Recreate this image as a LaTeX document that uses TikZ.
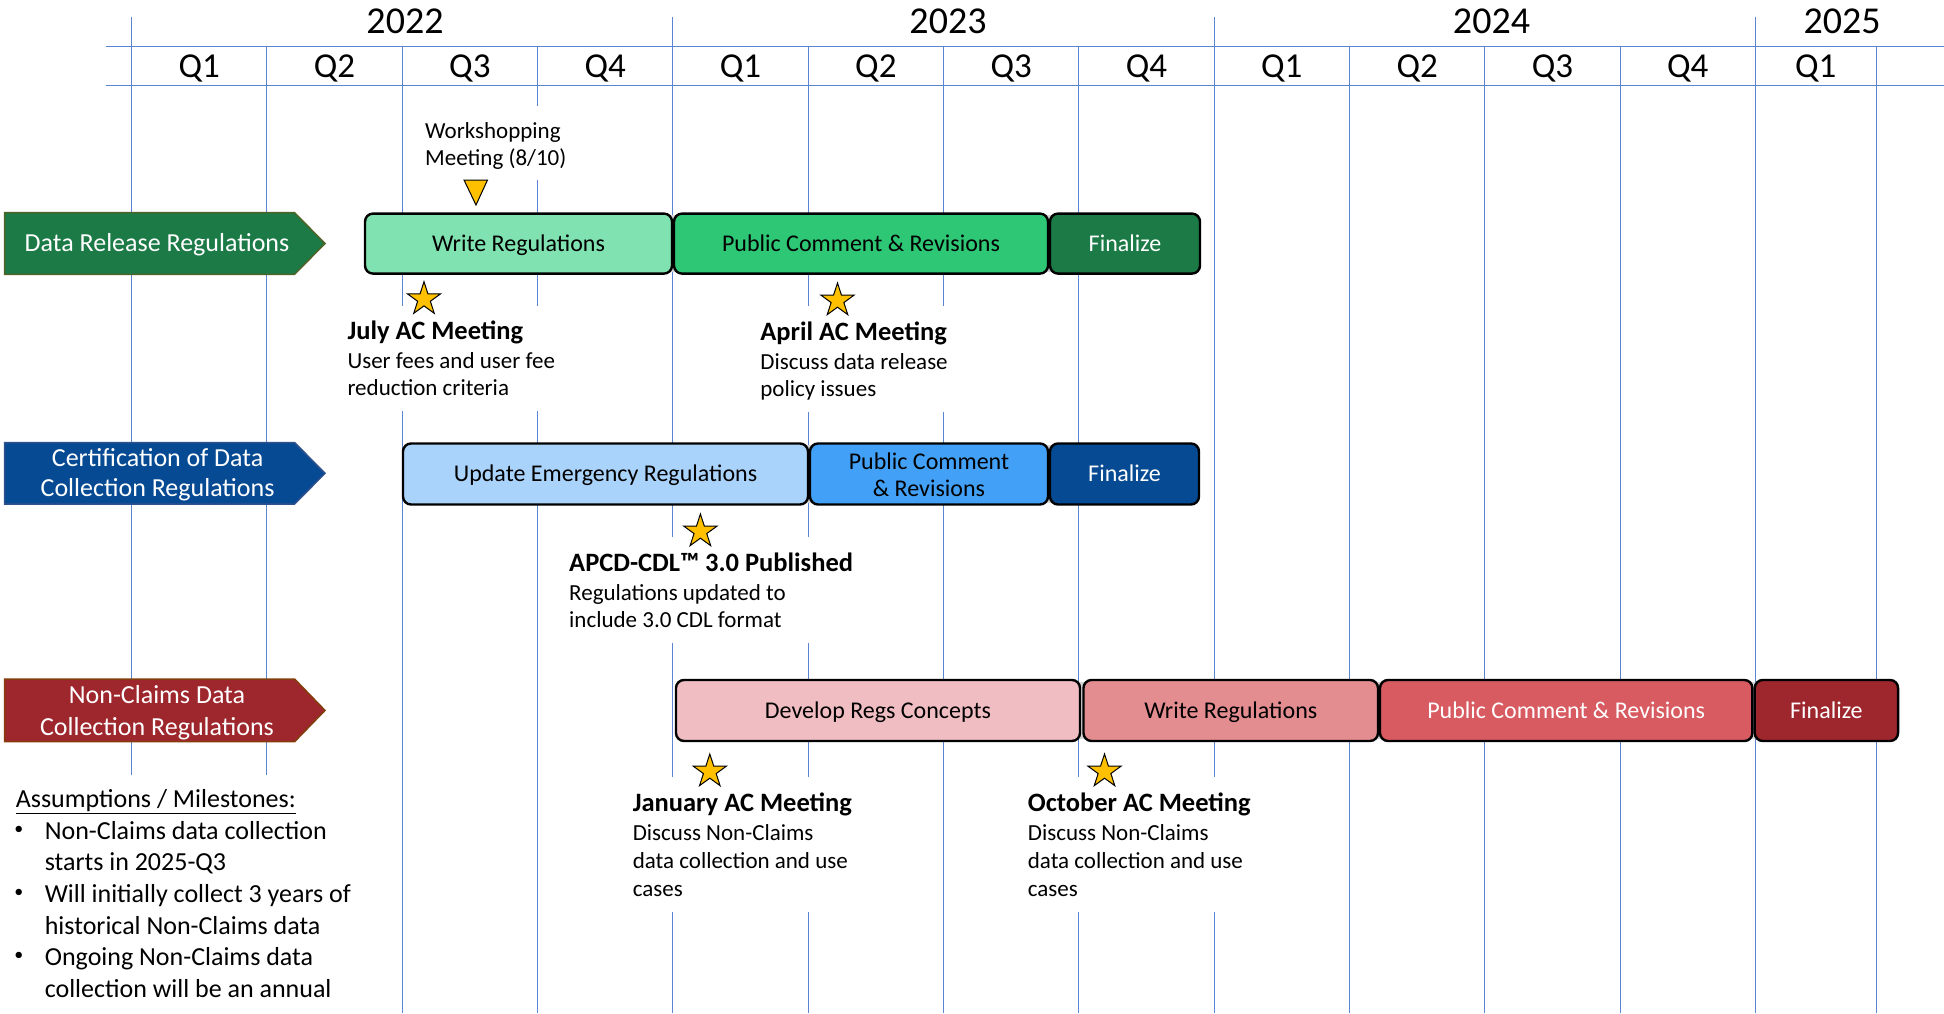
\documentclass[tikz,border=0pt]{standalone}
\usepackage{fontspec}
\setmainfont{Carlito}
\usetikzlibrary{shapes.geometric}
\definecolor{gridblue}{HTML}{5B85D0}
\definecolor{gDark}{HTML}{1B7A45}
\definecolor{gLight}{HTML}{80E2B0}
\definecolor{gMid}{HTML}{2DC775}
\definecolor{bDark}{HTML}{064A93}
\definecolor{bLight}{HTML}{AAD3FB}
\definecolor{bMid}{HTML}{42A1F7}
\definecolor{rDark}{HTML}{9E272D}
\definecolor{rLight}{HTML}{F0BEC2}
\definecolor{rMid}{HTML}{E38D91}
\definecolor{rRed}{HTML}{D75B61}
\definecolor{gold}{HTML}{FFC000}
\definecolor{gapgray}{HTML}{D6D6D6}
\definecolor{gEdge}{HTML}{4F6228}
\definecolor{bEdge}{HTML}{2F528F}
\definecolor{rEdge}{HTML}{843C0C}
\newcommand\fszYear{\fontsize{38}{44}\selectfont}
\newcommand\fszQ{\fontsize{35}{40}\selectfont}
\newcommand\fszBox{\fontsize{24}{28}\selectfont}
\newcommand\fszArrow{\fontsize{26}{30}\selectfont}
\newcommand\fszTitle{\fontsize{26.5}{30}\selectfont\bfseries}
\newcommand\fszBody{\fontsize{23}{27}\selectfont}
\newcommand\fszNote{\fontsize{26}{31}\selectfont}
\newcommand\fszBullet{\fontsize{18}{20}\selectfont}
\begin{document}
\begin{tikzpicture}[x=1pt,y=-1pt,
  grid/.style={draw=gridblue, line width=1.2pt},
  phase/.style={draw=black, line width=2.4pt, rounded corners=8pt,
    minimum width=#1, minimum height=60pt, inner sep=0pt,
    text height=15.2pt, text depth=0pt, font=\fszBox},
  lbl/.style={anchor=base west, inner sep=0pt},
  clbl/.style={anchor=base, inner sep=0pt},
  mstar/.style={star, star points=5, star point ratio=2.618, minimum size=35pt,
    inner sep=0pt, fill=gold, draw=black, line width=1pt},
  band/.style={fill=gapgray}]
\useasboundingbox (0,0) rectangle (1944,1013);
\fill[white] (0,0) rectangle (1944,1013);
% grid
\foreach \x in {131.5,266.8,402.2,537.5,672.8,808.2,943.5,1078.8,1214.1,1349.5,1484.8,1620.1,1755.5,1876.4}
  \draw[grid] (\x,46.7) -- (\x,1013);
\foreach \x in {131.5,672.8,1214.1,1755.5}
  \draw[grid] (\x,17) -- (\x,46.7);
\draw[grid] (106,46.7) -- (1944,46.7);
\draw[grid] (106,85.3) -- (1944,85.3);
% years and quarters
\node[clbl, font=\fszYear] (y22) at (405,33.3) {2022};
\node[clbl, font=\fszYear] (y23) at (948,33.3) {2023};
\node[clbl, font=\fszYear] (y24) at (1491.5,33.3) {2024};
\node[clbl, font=\fszYear] (y25) at (1842,33.3) {2025};
\foreach \x/\q [count=\i] in {199.15/Q1,334.5/Q2,469.85/Q3,605.15/Q4,740.5/Q1,875.85/Q2,1011.15/Q3,1146.45/Q4,1281.8/Q1,1417.15/Q2,1552.45/Q3,1687.8/Q4,1815.75/Q1}
  \node[clbl, font=\fszQ] (q\i) at (\x,77.5) {\q};
% white backgrounds behind texts
\fill[white] (415,106) rectangle (575,180);
\fill[white] (340,306) rectangle (565,411);
\fill[white] (752,306) rectangle (955,412);
\fill[white] (560,537) rectangle (865,643);
\fill[white] (625,777) rectangle (865,912);
\fill[white] (1020,777) rectangle (1260,912);
\fill[white] (8,775) rectangle (365,1013);
% gap bands
\fill[band] (375,215) rectangle (1190,272);
\fill[band] (413,445) rectangle (1189,503);
\fill[band] (686,682) rectangle (1888,739);
% row arrows
\draw[fill=gDark, draw=gEdge, line width=1.5pt] (4.5,212.7) -- (294.6,212.7) -- (325,243.5) -- (294.6,274.3) -- (4.5,274.3) -- cycle;
\draw[fill=bDark, draw=bEdge, line width=1.5pt] (4.5,442.5) -- (294.6,442.5) -- (325,473.3) -- (294.6,504) -- (4.5,504) -- cycle;
\draw[fill=rDark, draw=rEdge, line width=1.5pt] (4.5,679) -- (294.6,679) -- (325,710.4) -- (294.6,741.7) -- (4.5,741.7) -- cycle;
\node[clbl, font=\fszArrow, text=white] (a1) at (157,251.7) {Data Release Regulations};
\node[clbl, font=\fszArrow, text=white] (a2a) at (157.6,466.7) {Certification of Data};
\node[clbl, font=\fszArrow, text=white] (a2b) at (157.6,496) {Collection Regulations};
\node[clbl, font=\fszArrow, text=white] (a3a) at (157,703.3) {Non-Claims Data};
\node[clbl, font=\fszArrow, text=white] (a3b) at (157,735) {Collection Regulations};
% row 1 phases
\node[phase=307pt, fill=gLight] (w1) at (518.5,243.6) {Write Regulations};
\node[phase=374pt, fill=gMid] (p1) at (861,243.6) {Public Comment \& Revisions};
\node[phase=150pt, fill=gDark, text=white] (f1) at (1125,243.6) {Finalize};
% row 2 phases
\node[phase=405pt, fill=bLight, minimum height=61pt] (u2) at (605.5,474) {Update Emergency Regulations};
\node[phase=238pt, fill=bMid, minimum height=61pt] (p2) at (929,474) {};
\node[clbl, font=\fszBox] (p2a) at (929,469) {Public Comment};
\node[clbl, font=\fszBox] (p2b) at (929,496.7) {\& Revisions};
\node[phase=149pt, fill=bDark, text=white, minimum height=61pt] (f2) at (1124.5,474) {Finalize};
% row 3 phases
\node[phase=404pt, fill=rLight, minimum height=61pt] (d3) at (878,710.5) {Develop Regs Concepts};
\node[phase=294.5pt, fill=rMid, minimum height=61pt] (w3) at (1230.75,710.5) {Write Regulations};
\node[phase=372.4pt, fill=rRed, text=white, minimum height=61pt] (p3) at (1566.2,710.5) {Public Comment \& Revisions};
\node[phase=143.3pt, fill=rDark, text=white, minimum height=61pt] (f3) at (1826.4,710.5) {Finalize};
% workshopping
\node[lbl, font=\fszBody] (ws1) at (425,138.3) {Workshopping};
\node[lbl, font=\fszBody] (ws2) at (425,165.7) {Meeting (8/10)};
\draw[fill=gold, draw=black, line width=1pt] (464,180) -- (487.5,180) -- (476,205) -- cycle;
% stars
\node[mstar] (sJul) at (424,299.2) {};
\node[mstar] (sApr) at (837.5,300.5) {};
\node[mstar] (sCdl) at (700.4,531.5) {};
\node[mstar] (sJan) at (709.8,771.5) {};
\node[mstar] (sOct) at (1104.5,771.5) {};
% milestone texts
\node[lbl, font=\fszTitle] (jul0) at (347.3,339.3) {July AC Meeting};
\node[lbl, font=\fszBody] (jul1) at (347.3,368.3) {User fees and user fee};
\node[lbl, font=\fszBody] (jul2) at (347.3,395.3) {reduction criteria};
\node[lbl, font=\fszTitle] (apr0) at (760.2,340.7) {April AC Meeting};
\node[lbl, font=\fszBody] (apr1) at (760.2,369.3) {Discuss data release};
\node[lbl, font=\fszBody] (apr2) at (760.2,396.5) {policy issues};
\node[lbl, font=\fszTitle] (cdl0) at (569,571.7) {APCD-CDL™ 3.0 Published};
\node[lbl, font=\fszBody] (cdl1) at (569,600) {Regulations updated to};
\node[lbl, font=\fszBody] (cdl2) at (569,627.3) {include 3.0 CDL format};
\node[lbl, font=\fszTitle] (jan0) at (632.6,811.7) {January AC Meeting};
\node[lbl, font=\fszBody] (jan1) at (632.6,840) {Discuss Non-Claims};
\node[lbl, font=\fszBody] (jan2) at (632.6,868.3) {data collection and use};
\node[lbl, font=\fszBody] (jan3) at (632.6,896) {cases};
\node[lbl, font=\fszTitle] (oct0) at (1027.7,811.7) {October AC Meeting};
\node[lbl, font=\fszBody] (oct1) at (1027.7,840) {Discuss Non-Claims};
\node[lbl, font=\fszBody] (oct2) at (1027.7,868.3) {data collection and use};
\node[lbl, font=\fszBody] (oct3) at (1027.7,896) {cases};
% assumptions
\node[lbl, font=\fszNote] (as0) at (15.6,807.7) {\underline{Assumptions / Milestones:}};
\foreach \yy/\t [count=\i] in {839.3/Non-Claims data collection,870.9/starts in 2025-Q3,902.5/Will initially collect 3 years of,934.1/historical Non-Claims data,965.7/Ongoing Non-Claims data,997.3/collection will be an annual}
  \node[lbl, font=\fszNote] (as\i) at (44.6,\yy) {\t};
\foreach \yy [count=\i] in {834.5,897.7,960.9}
  \node[clbl, font=\fszBullet] (bu\i) at (18.75,\yy) {•};
\end{tikzpicture}
\end{document}
